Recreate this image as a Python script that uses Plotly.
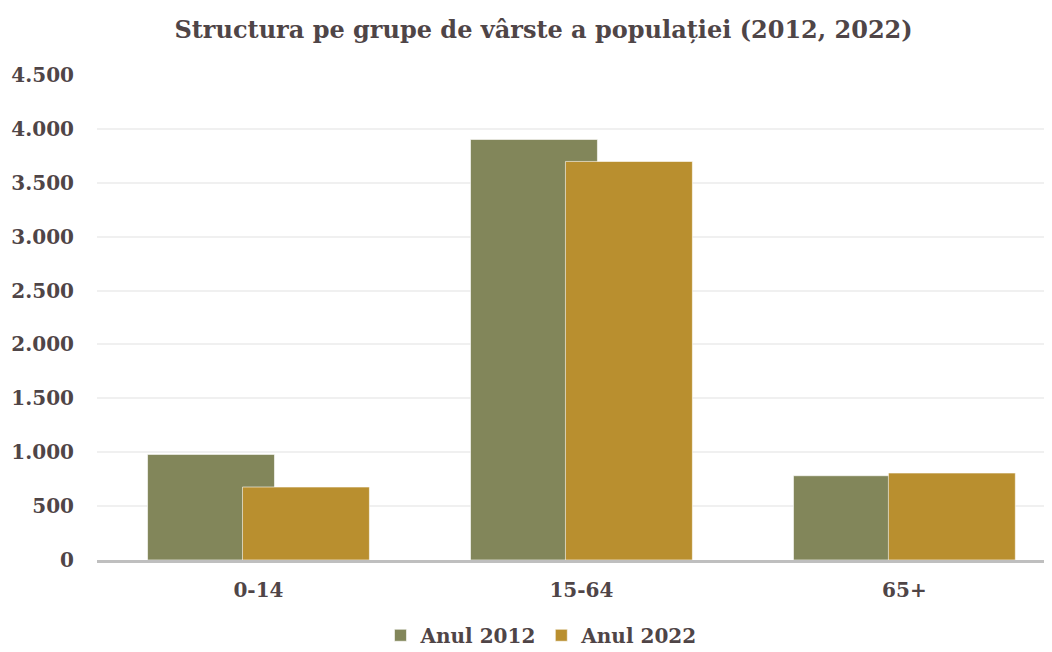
import plotly.graph_objects as go

categories = ["0-14", "15-64", "65+"]
values_2012 = [980, 3902, 782]
values_2022 = [677, 3698, 807]
series_names = ["Anul 2012", "Anul 2022"]
tick_vals = [0, 500, 1000, 1500, 2000, 2500, 3000, 3500, 4000, 4500]

FONT = "DejaVu Serif"
TXT = "#4F4547"
C2012 = "#82865A"
C2022 = "#B98F2F"

BW = 0.393
fig = go.Figure()
fig.add_trace(go.Bar(x=categories, y=values_2012, name=f"<b>{series_names[0]}</b>",
                     marker=dict(color=C2012, line=dict(color="rgba(255,255,255,0.6)", width=1)),
                     width=BW, offset=-0.147 - BW / 2))
fig.add_trace(go.Bar(x=categories, y=values_2022, name=f"<b>{series_names[1]}</b>",
                     marker=dict(color=C2022, line=dict(color="rgba(255,255,255,0.6)", width=1)),
                     width=BW, offset=0.147 - BW / 2))

fig.update_layout(
    width=1044, height=644,
    barmode="overlay",
    paper_bgcolor="white", plot_bgcolor="white",
    margin=dict(l=89, r=0, t=67, b=92, autoexpand=False),
    font=dict(family=FONT, color=TXT, size=20),
    title=dict(text="<b>Structura pe grupe de vârste a populației (2012, 2022)</b>",
               x=0.513, xref="container", xanchor="center",
               y=0.967, yref="container", yanchor="middle",
               font=dict(family=FONT, size=24, color=TXT)),
    legend=dict(orientation="h", xref="container", yref="container",
                x=0.511, xanchor="center", y=0.026, yanchor="middle",
                font=dict(family=FONT, size=20, color=TXT),
                itemwidth=30, tracegroupgap=0),
    showlegend=True,
)
fig.update_yaxes(range=[0, 4500], tickmode="array", tickvals=tick_vals,
                 ticktext=[f"<b>{v:,}</b>".replace(",", ".") for v in tick_vals],
                 showgrid=True, gridcolor="#F0F0F0", gridwidth=2,
                 zeroline=False, showline=False, ticks="", automargin=False,
                 ticklabelstandoff=22,
                 tickfont=dict(family=FONT, size=20, color=TXT))
fig.update_xaxes(range=[-0.5, 2.457], tickmode="array", tickvals=categories,
                 ticktext=[f"<b>{c}</b>" for c in categories],
                 showline=True, linecolor="#BFBFBF", linewidth=3, automargin=False,
                 ticks="", ticklabelstandoff=10, showgrid=False,
                 tickfont=dict(family=FONT, size=20, color=TXT))

fig.write_html("out.html")
